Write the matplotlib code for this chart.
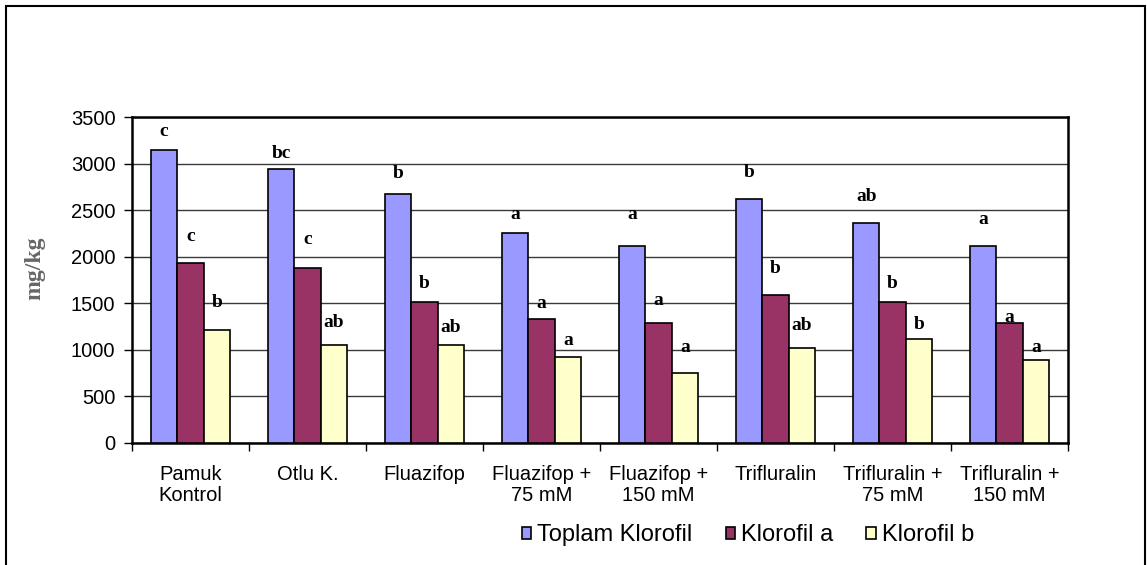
import matplotlib
matplotlib.use('Agg')
import matplotlib.pyplot as plt
import matplotlib.patches as mpatches
import numpy as np

categories = ['Pamuk\nKontrol', 'Otlu K.', 'Fluazifop', 'Fluazifop +\n75 mM',
              'Fluazifop +\n150 mM', 'Trifluralin', 'Trifluralin +\n75 mM',
              'Trifluralin +\n150 mM']
series_names = ['Toplam Klorofil', 'Klorofil a', 'Klorofil b']
toplam = [3150, 2943, 2678, 2259, 2119, 2624, 2366, 2113]
klorofil_a = [1936, 1880, 1518, 1332, 1286, 1593, 1518, 1286]
klorofil_b = [1210, 1056, 1049, 920, 755, 1017, 1117, 891]
letters_toplam = ['c', 'bc', 'b', 'a', 'a', 'b', 'ab', 'a']
letters_a = ['c', 'c', 'b', 'a', 'a', 'b', 'b', 'a']
letters_b = ['b', 'ab', 'ab', 'a', 'a', 'ab', 'b', 'a']

# gap between bar top and letter, in points
dy_toplam = [7, 5, 8, 7, 16, 13, 13, 13]
dy_a = [13, 14, 7, 5, 10, 13, 7, -2]
dy_b = [14, 10, 7, 6, 12, 10, 4, 3]

colors = ['#9999FF', '#993366', '#FFFFCC']
sans = ['Liberation Sans', 'DejaVu Sans']
serif = ['Liberation Serif', 'DejaVu Serif']

fig = plt.figure(figsize=(11.47, 5.65), dpi=100)
ax = fig.add_axes([0.11508, 0.21593, 0.81604, 0.57699])

x = np.arange(len(categories))
w = 0.225
series = [toplam, klorofil_a, klorofil_b]
letters = [letters_toplam, letters_a, letters_b]
dys = [dy_toplam, dy_a, dy_b]
bars = []
for i, (vals, col) in enumerate(zip(series, colors)):
    pos = x + (i - 1) * w
    b = ax.bar(pos, vals, w, color=col, edgecolor='black', linewidth=1.2,
               label=series_names[i], zorder=3)
    bars.append(b)
    for px, v, t, d in zip(pos, vals, letters[i], dys[i]):
        ax.annotate(t, (px, v), xytext=(0, d), textcoords='offset points',
                    ha='center', va='bottom', fontsize=14, fontweight='bold',
                    family=serif, zorder=2)

ax.set_xlim(-0.5, len(categories) - 0.5)
ax.set_ylim(0, 3500)
ax.set_yticks(range(0, 3501, 500))
ax.yaxis.grid(True, color='#3a3a3a', linewidth=1.0, zorder=0)
ax.set_axisbelow(True)

ax.set_xticks(x)
ax.set_xticklabels(categories, fontsize=14.5, family=sans, linespacing=1.15)
ax.set_xticks(np.arange(-0.5, len(categories)), minor=True)
ax.tick_params(axis='x', which='major', length=0, pad=16)
ax.tick_params(axis='x', which='minor', length=6, width=1, direction='out')
ax.tick_params(axis='y', length=6, width=1, direction='out', pad=6,
               labelsize=14.5)
for lab in ax.get_yticklabels():
    lab.set_family(sans)

for s in ax.spines.values():
    s.set_linewidth(1.8)
    s.set_color('black')

fig.text(0.030, 1 - 268 / 565, 'mg/kg', rotation=90, ha='center', va='center',
         fontsize=17, fontweight='bold', family=serif, color='#666666')

fig.legend(handles=bars, labels=series_names, loc='center',
           bbox_to_anchor=(0.652, 0.053), ncol=3, frameon=False,
           prop={'family': sans, 'size': 17}, handlelength=0.4,
           handleheight=0.4, handletextpad=0.25, columnspacing=1.4)

border = mpatches.Rectangle((6 / 1147, -0.1), (1145 - 6) / 1147, 1.1 - 6.5 / 565,
                            transform=fig.transFigure, fill=False,
                            edgecolor='black', linewidth=1.5, clip_on=False)
fig.patches.append(border)

fig.savefig('out.png', dpi=100)
